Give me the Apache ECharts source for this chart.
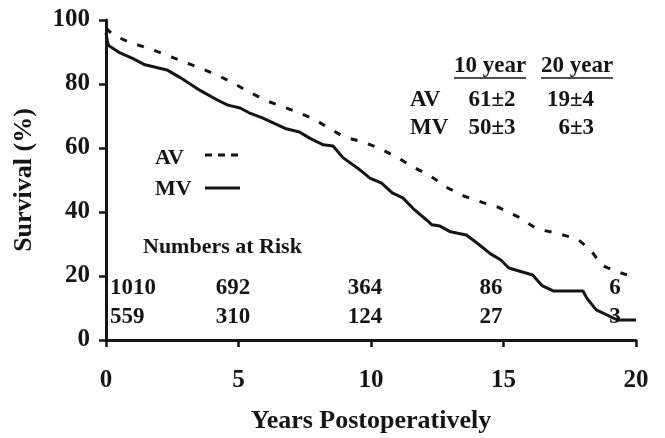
<!DOCTYPE html>
<html>
<head>
<meta charset="utf-8">
<script src="https://cdn.jsdelivr.net/npm/echarts@6/dist/echarts.min.js"></script>
<style>
html,body{margin:0;padding:0;background:#fff;}
#c{width:665px;height:438px;}
</style>
</head>
<body>
<div id="c"></div>
<script>
// Kaplan-Meier survival (years, %)
const avX = [0, 0.27, 0.9, 1.66, 2.3, 2.9, 3.55, 4.2, 4.8, 5.4, 6.07, 6.7, 7.3, 7.9, 8.45, 9.0, 9.66, 10.3, 11.0, 11.6, 12.2, 12.9, 13.5, 14.2, 14.8, 15.55, 16.26, 17.0, 17.8, 18.3, 18.7, 19.3, 19.9];
const avY = [97.5, 95.3, 93, 91, 89, 87, 85, 82.8, 80.3, 77.5, 74.7, 72.8, 71, 68.8, 66, 63.4, 62, 60, 57, 54, 51.5, 47.5, 45, 43, 41.5, 38.5, 34.7, 33.4, 31.5, 28, 23.4, 21.3, 19.7];
const mvX = [0, 0.05, 0.1, 0.53, 1.0, 1.47, 2.3, 2.8, 3.55, 4.2, 4.6, 5.06, 5.4, 5.9, 6.8, 7.3, 7.7, 8.2, 8.57, 8.94, 9.5, 9.96, 10.4, 10.8, 11.2, 11.6, 12.1, 12.3, 12.6, 13.0, 13.6, 14.0, 14.5, 14.9, 15.2, 16.1, 16.45, 16.9, 18.0, 18.15, 18.5, 19.3, 20.0];
const mvY = [96, 93.5, 92, 89.7, 88, 86, 84.4, 82, 78, 75, 73.4, 72.5, 71, 69.4, 66, 65, 63, 61, 60.6, 57, 53.7, 50.6, 49, 46, 44.4, 41, 37.5, 36, 35.6, 33.8, 32.8, 30.3, 27, 25, 22.5, 20.3, 17, 15.3, 15.3, 13, 9.4, 6.25, 6.25];

const xTicks = [0, 5, 10, 15, 20];
const yTicks = [0, 20, 40, 60, 80, 100];

const riskAV = ['1010', '692', '364', '86', '6'];
const riskMV = ['559', '310', '124', '27', '3'];
const riskPx = [110, 233, 365, 491, 615];

const tableHead = ['10 year', '20 year'];
const tableRows = ['AV', 'MV'];
const tableAV = ['61±2', '19±4'];
const tableMV = ['50±3', '6±3'];

const FONT = '"Liberation Serif", "Times New Roman", serif';
const C = '#151515';

const chart = echarts.init(document.getElementById('c'), null, {renderer: 'canvas'});

function txt(x, y, s, size, align) {
  return {type: 'text', x: x, y: y, style: {text: s, font: 'bold ' + size + 'px ' + FONT, fill: C, align: align || 'center', verticalAlign: 'middle'}};
}

const graphics = [];
// legend
graphics.push(txt(155, 158, 'AV', 22, 'left'));
graphics.push(txt(155, 189, 'MV', 22, 'left'));
graphics.push({type: 'line', shape: {x1: 205, y1: 155, x2: 240, y2: 155}, style: {stroke: C, lineWidth: 3, lineDash: [7, 6]}});
graphics.push({type: 'line', shape: {x1: 205, y1: 188, x2: 240, y2: 188}, style: {stroke: C, lineWidth: 3}});
// numbers at risk
graphics.push(txt(143, 247, 'Numbers at Risk', 22, 'left'));
riskAV.forEach((v, i) => graphics.push(txt(riskPx[i], 288, v, 23, i === 0 ? 'left' : 'center')));
riskMV.forEach((v, i) => graphics.push(txt(riskPx[i], 317, v, 23, i === 0 ? 'left' : 'center')));
// table
const headX = [490, 577];
tableHead.forEach((h, i) => {
  graphics.push(txt(headX[i], 66, h, 23, 'center'));
  graphics.push({type: 'line', shape: {x1: headX[i] - 36, y1: 78, x2: headX[i] + 36, y2: 78}, style: {stroke: C, lineWidth: 1.5}});
});
graphics.push(txt(410, 100, tableRows[0], 23, 'left'));
graphics.push(txt(410, 128, tableRows[1], 23, 'left'));
graphics.push(txt(492, 100, tableAV[0], 23, 'center'));
graphics.push(txt(594, 100, tableAV[1], 23, 'right'));
graphics.push(txt(492, 128, tableMV[0], 23, 'center'));
graphics.push(txt(594, 128, tableMV[1], 23, 'right'));

chart.setOption({
  animation: false,
  backgroundColor: '#fff',
  grid: {left: 106, right: 29, top: 20, bottom: 98, containLabel: false, outerBoundsMode: 'none'},
  xAxis: {
    type: 'value', min: 0, max: 20, interval: 5,
    name: 'Years Postoperatively', nameLocation: 'middle', nameGap: 68,
    nameTextStyle: {fontFamily: FONT, fontWeight: 'bold', fontSize: 26, color: C},
    axisLine: {lineStyle: {color: C, width: 3}},
    axisTick: {show: true, inside: false, length: 7, lineStyle: {color: C, width: 2.5}},
    axisLabel: {margin: 28, fontFamily: FONT, fontWeight: 'bold', fontSize: 25, color: C,
      formatter: v => xTicks.includes(v) ? String(v) : ''},
    splitLine: {show: false}
  },
  yAxis: {
    type: 'value', min: 0, max: 100, interval: 20,
    name: 'Survival (%)', nameLocation: 'middle', nameGap: 69,
    nameTextStyle: {fontFamily: FONT, fontWeight: 'bold', fontSize: 26, color: C},
    axisLine: {show: true, lineStyle: {color: C, width: 3}},
    axisTick: {show: true, inside: false, length: 7, lineStyle: {color: C, width: 2.5}},
    axisLabel: {margin: 16, fontFamily: FONT, fontWeight: 'bold', fontSize: 25, color: C,
      formatter: v => yTicks.includes(v) ? String(v) : ''},
    splitLine: {show: false}
  },
  series: [
    {name: 'AV', type: 'line', data: avX.map((x, i) => [x, avY[i]]), showSymbol: false,
      lineStyle: {color: C, width: 3, type: [7, 11]}},
    {name: 'MV', type: 'line', data: mvX.map((x, i) => [x, mvY[i]]), showSymbol: false,
      lineStyle: {color: C, width: 3}}
  ],
  graphic: graphics
});
</script>
</body>
</html>
